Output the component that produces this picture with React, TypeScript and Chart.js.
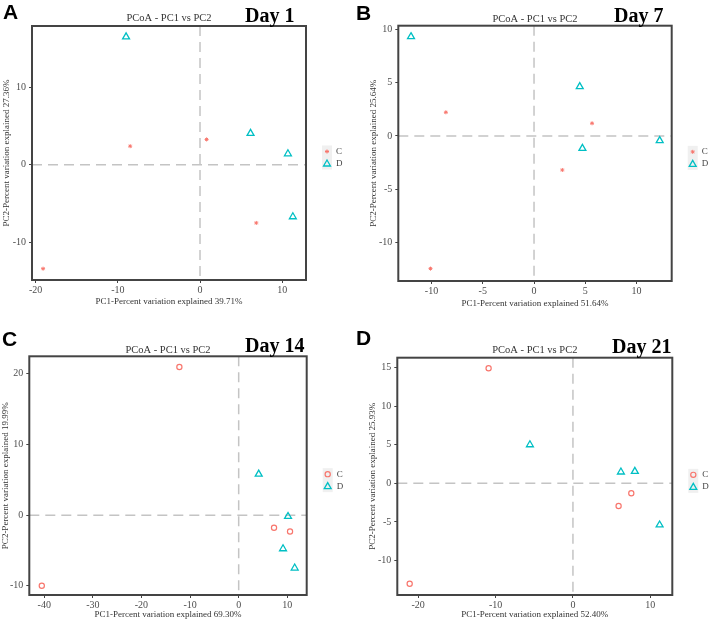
import React, { useEffect, useRef } from 'react';
import { Chart, registerables } from 'chart.js';

Chart.register(...registerables);

// ---------- DATA ----------
const groupNames = ['C', 'D'];

const day1C: [number, number][] = [[-8.5, 2.4], [0.8, 3.27], [6.85, -7.5], [-19.1, -13.4]];
const day1D: [number, number][] = [[-9.0, 16.5], [6.15, 4.05], [10.7, 1.42], [11.3, -6.7]];

const day7C: [number, number][] = [[-8.6, 2.22], [5.66, 1.19], [2.76, -3.19], [-10.1, -12.44]];
const day7D: [number, number][] = [[-12.0, 9.31], [4.46, 4.63], [4.72, -1.16], [12.26, -0.44]];

const day14C: [number, number][] = [[-12.2, 20.94], [-40.5, -9.98], [7.27, -1.79], [10.56, -2.31]];
const day14D: [number, number][] = [[4.12, 5.79], [10.15, -0.19], [9.12, -4.75], [11.52, -7.48]];

const day21C: [number, number][] = [[-10.9, 14.9], [-21.1, -13.0], [7.54, -1.29], [5.9, -2.93]];
const day21D: [number, number][] = [[-5.56, 5.0], [6.2, 1.47], [8.0, 1.55], [11.2, -5.39]];

const day1XTicks = [-20, -10, 0, 10];
const day1YTicks = [-10, 0, 10];
const day7XTicks = [-10, -5, 0, 5, 10];
const day7YTicks = [-10, -5, 0, 5, 10];
const day14XTicks = [-40, -30, -20, -10, 0, 10];
const day14YTicks = [-10, 0, 10, 20];
const day21XTicks = [-20, -10, 0, 10];
const day21YTicks = [-10, -5, 0, 5, 10, 15];

const plotTitle = 'PCoA - PC1 vs PC2';
const xTitles = [
  'PC1-Percent variation explained 39.71%',
  'PC1-Percent variation explained 51.64%',
  'PC1-Percent variation explained 69.30%',
  'PC1-Percent variation explained 52.40%',
];
const yTitles = [
  'PC2-Percent variation explained 27.36%',
  'PC2-Percent variation explained 25.64%',
  'PC2-Percent variation explained 19.99%',
  'PC2-Percent variation explained 25.93%',
];
const panelLetters = ['A', 'B', 'C', 'D'];
const dayLabels = ['Day 1', 'Day 7', 'Day 14', 'Day 21'];

// ---------- STYLE ----------
const PINK = '#F8766D';
const TEAL = '#00BFC4';
const SERIF = "'Liberation Serif', 'Times New Roman', serif";
const SANS = "'Liberation Sans', Arial, sans-serif";

type Spec = {
  idx: number;
  left: number; top: number; w: number; h: number;
  area: { l: number; r: number; t: number; b: number };
  xr: [number, number]; yr: [number, number];
  xTicks: number[]; yTicks: number[];
  cData: [number, number][]; dData: [number, number][];
  cStyle: 'star' | 'circle';
  titleY: number; xTitleY: number; yTitleX: number;
  letterPos: [number, number]; dayPos: [number, number];
};

const specs: Spec[] = [
  {
    idx: 0, left: 0, top: 0, w: 354, h: 310,
    area: { l: 32, r: 306, t: 26, b: 280 },
    xr: [-20.45, 12.9], yr: [-14.86, 17.9],
    xTicks: day1XTicks, yTicks: day1YTicks,
    cData: day1C, dData: day1D, cStyle: 'star',
    titleY: 18, xTitleY: 302, yTitleX: 7,
    letterPos: [3, 19], dayPos: [245, 21.5],
  },
  {
    idx: 1, left: 354, top: 0, w: 355, h: 310,
    area: { l: 44.3, r: 317.7, t: 25.7, b: 281 },
    xr: [-13.24, 13.43], yr: [-13.6, 10.34],
    xTicks: day7XTicks, yTicks: day7YTicks,
    cData: day7C, dData: day7D, cStyle: 'star',
    titleY: 19, xTitleY: 304, yTitleX: 20,
    letterPos: [2, 20], dayPos: [260, 22],
  },
  {
    idx: 2, left: 0, top: 310, w: 354, h: 312,
    area: { l: 29.3, r: 306.7, t: 46, b: 285 },
    xr: [-43.07, 13.99], yr: [-11.29, 22.45],
    xTicks: day14XTicks, yTicks: day14YTicks,
    cData: day14C, dData: day14D, cStyle: 'circle',
    titleY: 40, xTitleY: 305, yTitleX: 5,
    letterPos: [2, 36], dayPos: [245, 42],
  },
  {
    idx: 3, left: 354, top: 310, w: 355, h: 312,
    area: { l: 43.3, r: 318.3, t: 47.7, b: 285 },
    xr: [-22.7, 12.84], yr: [-14.46, 16.27],
    xTicks: day21XTicks, yTicks: day21YTicks,
    cData: day21C, dData: day21D, cStyle: 'circle',
    titleY: 40, xTitleY: 305, yTitleX: 19,
    letterPos: [2, 35], dayPos: [258, 43],
  },
];

function drawSymbol(ctx: CanvasRenderingContext2D, style: string, x: number, y: number, r: number, color: string, lw: number) {
  ctx.save();
  ctx.strokeStyle = color;
  ctx.lineWidth = lw;
  ctx.beginPath();
  if (style === 'circle') {
    ctx.arc(x, y, r, 0, Math.PI * 2);
  } else if (style === 'triangle') {
    let a = 0;
    ctx.moveTo(x + Math.sin(a) * r, y - Math.cos(a) * r);
    a += (2 * Math.PI) / 3;
    ctx.lineTo(x + Math.sin(a) * r, y - Math.cos(a) * r);
    a += (2 * Math.PI) / 3;
    ctx.lineTo(x + Math.sin(a) * r, y - Math.cos(a) * r);
    ctx.closePath();
  } else {
    ctx.moveTo(x - r, y); ctx.lineTo(x + r, y);
    ctx.moveTo(x, y - r); ctx.lineTo(x, y + r);
    const d = r * 0.7071;
    ctx.moveTo(x - d, y - d); ctx.lineTo(x + d, y + d);
    ctx.moveTo(x - d, y + d); ctx.lineTo(x + d, y - d);
  }
  ctx.stroke();
  ctx.restore();
}

function Panel({ spec }: { spec: Spec }) {
  const ref = useRef<HTMLCanvasElement>(null);
  useEffect(() => {
    const canvas = ref.current;
    if (!canvas) return;
    const { area, w, h } = spec;
    const titleLH = 10.5 * 1.2;
    const padTop = spec.titleY - titleLH / 2;
    const titleBottomPad = Math.max(0, area.t - padTop - titleLH);
    const axisLH = 9 * 1.2;
    const xTitlePad = Math.max(0, h - spec.xTitleY - axisLH / 2);
    const yTitlePad = Math.max(0, spec.yTitleX - axisLH / 2);
    const cRadius = spec.cStyle === 'star' ? 2 : 2.6;
    const cWidth = spec.cStyle === 'star' ? 1 : 1.2;

    const decor = {
      id: 'decor',
      beforeDatasetsDraw(chart: any) {
        const ctx = chart.ctx as CanvasRenderingContext2D;
        const ca = chart.chartArea;
        const x0 = chart.scales.x.getPixelForValue(0);
        const y0 = chart.scales.y.getPixelForValue(0);
        ctx.save();
        ctx.strokeStyle = '#C4C4C4';
        ctx.lineWidth = 1.5;
        ctx.setLineDash([10, 6]);
        ctx.beginPath();
        ctx.moveTo(x0, ca.top); ctx.lineTo(x0, ca.bottom);
        ctx.moveTo(ca.left, y0); ctx.lineTo(ca.right, y0);
        ctx.stroke();
        ctx.restore();
      },
      afterDraw(chart: any) {
        const ctx = chart.ctx as CanvasRenderingContext2D;
        const ca = chart.chartArea;
        ctx.save();
        // panel box
        ctx.strokeStyle = '#444';
        ctx.lineWidth = 2;
        ctx.strokeRect(ca.left, ca.top, ca.right - ca.left, ca.bottom - ca.top);
        // legend
        const cy = (ca.top + ca.bottom) / 2;
        const kx = ca.right + 21;
        const ys = [cy - 1.5, cy + 10.5];
        ctx.fillStyle = '#F0F0F0';
        ctx.fillRect(kx - 5, ys[0] - 6, 10, 24);
        drawSymbol(ctx, spec.cStyle, kx, ys[0], cRadius, PINK, cWidth);
        drawSymbol(ctx, 'triangle', kx, ys[1] + 0.5, 4, TEAL, 1.3);
        ctx.fillStyle = '#444';
        ctx.font = `9px ${SERIF}`;
        ctx.textAlign = 'left';
        ctx.textBaseline = 'middle';
        ctx.fillText(groupNames[0], kx + 9, ys[0]);
        ctx.fillText(groupNames[1], kx + 9, ys[1]);
        // panel letter
        ctx.fillStyle = '#000';
        ctx.textBaseline = 'alphabetic';
        ctx.font = `bold 21px ${SANS}`;
        ctx.fillText(panelLetters[spec.idx], spec.letterPos[0], spec.letterPos[1]);
        // day label
        ctx.font = `bold 20px ${SERIF}`;
        ctx.fillText(dayLabels[spec.idx], spec.dayPos[0], spec.dayPos[1]);
        ctx.restore();
      },
    };

    const tickFont = { family: SERIF, size: 10 };
    const chart = new Chart(canvas, {
      type: 'scatter',
      data: {
        datasets: [
          {
            label: groupNames[0],
            data: spec.cData.map(([x, y]) => ({ x, y })),
            pointStyle: spec.cStyle === 'star' ? 'star' : 'circle',
            pointRadius: cRadius,
            pointBorderWidth: cWidth,
            borderColor: PINK,
            backgroundColor: 'rgba(0,0,0,0)',
          },
          {
            label: groupNames[1],
            data: spec.dData.map(([x, y]) => ({ x, y })),
            pointStyle: 'triangle',
            pointRadius: 4,
            pointBorderWidth: 1.3,
            borderColor: TEAL,
            backgroundColor: 'rgba(0,0,0,0)',
          },
        ],
      },
      options: {
        responsive: false,
        animation: false,
        devicePixelRatio: 1,
        layout: { padding: { left: 0, right: w - area.r, top: padTop, bottom: 0 } },
        plugins: {
          legend: { display: false },
          tooltip: { enabled: false },
          title: {
            display: true,
            text: plotTitle,
            fullSize: false,
            color: '#333',
            font: { family: SERIF, size: 10.5, weight: 'normal' },
            padding: { top: 0, bottom: titleBottomPad },
          },
        },
        scales: {
          x: {
            type: 'linear',
            min: spec.xr[0],
            max: spec.xr[1],
            afterBuildTicks: (s: any) => { s.ticks = spec.xTicks.map((v) => ({ value: v })); },
            afterFit: (s: any) => { s.height = h - area.b; },
            grid: { display: true, drawOnChartArea: false, drawTicks: true, tickLength: 3, tickColor: '#444', tickWidth: 1 },
            border: { display: false },
            ticks: { font: tickFont, color: '#4D4D4D', padding: 1, maxRotation: 0, autoSkip: false, callback: (v: any) => String(v) },
            title: { display: true, text: xTitles[spec.idx], color: '#333', font: { family: SERIF, size: 9 }, padding: { top: 0, bottom: xTitlePad } },
          },
          y: {
            type: 'linear',
            min: spec.yr[0],
            max: spec.yr[1],
            afterBuildTicks: (s: any) => { s.ticks = spec.yTicks.map((v) => ({ value: v })); },
            afterFit: (s: any) => { s.width = area.l; },
            grid: { display: true, drawOnChartArea: false, drawTicks: true, tickLength: 3, tickColor: '#444', tickWidth: 1 },
            border: { display: false },
            ticks: { font: tickFont, color: '#4D4D4D', padding: 3, autoSkip: false, callback: (v: any) => String(v) },
            title: { display: true, text: yTitles[spec.idx], color: '#333', font: { family: SERIF, size: 9 }, padding: { top: yTitlePad, bottom: 0 } },
          },
        },
      },
      plugins: [decor],
    } as any);
    return () => chart.destroy();
  }, [spec]);
  return (
    <canvas
      ref={ref}
      width={spec.w}
      height={spec.h}
      style={{ position: 'absolute', left: spec.left, top: spec.top, width: spec.w, height: spec.h, display: 'block' }}
    />
  );
}

export default function App() {
  return (
    <div style={{ position: 'absolute', left: 0, top: 0, width: 709, height: 622, background: '#fff', overflow: 'hidden' }}>
      {specs.map((s) => (
        <Panel key={s.idx} spec={s} />
      ))}
    </div>
  );
}
